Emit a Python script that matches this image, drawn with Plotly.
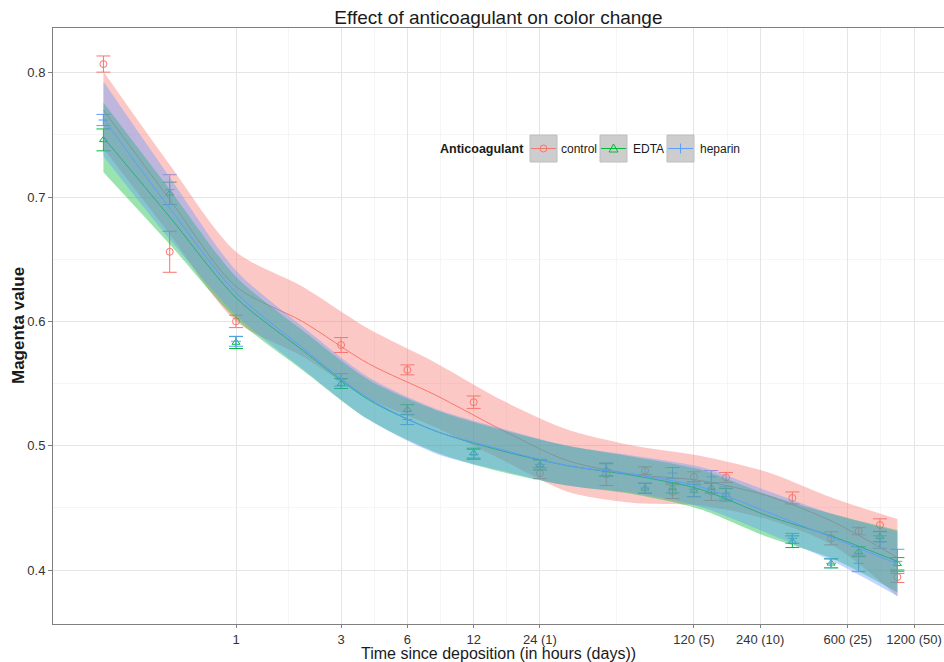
import plotly.graph_objects as go

# ---- measurements: mean magenta value and error half-width at each sampling time (hours)
hours = [0.25, 0.5, 1, 3, 6, 12, 24, 48, 72, 96, 120, 144, 168, 336, 504, 672, 840, 1008]

control_mean = [0.807, 0.656, 0.600, 0.581, 0.561, 0.535, 0.478, 0.477, 0.480, 0.463, 0.475, 0.463,
                0.4745, 0.458, 0.4255, 0.4314, 0.4362, 0.3944]
control_err = [0.0065, 0.0165, 0.005, 0.006, 0.004, 0.005, 0.0045, 0.009, 0.003, 0.0055, 0.004, 0.007,
               0.004, 0.0048, 0.0053, 0.003, 0.005, 0.0044]

edta_mean = [0.746, 0.703, 0.583, 0.550, 0.529, 0.494, 0.4845, 0.4805, 0.4657, 0.466, 0.464, 0.466,
             0.4605, 0.4228, 0.4054, 0.4148, 0.4268, 0.405]
edta_err = [0.0088, 0.009, 0.0048, 0.004, 0.004, 0.004, 0.004, 0.005, 0.004, 0.004, 0.005, 0.004,
            0.005, 0.0047, 0.0037, 0.004, 0.004, 0.005]

heparin_mean = [0.762, 0.706, 0.584, 0.553, 0.521, 0.493, 0.485, 0.481, 0.466, 0.478, 0.465, 0.475,
                0.462, 0.4255, 0.4054, 0.4054, 0.4225, 0.407]
heparin_err = [0.0045, 0.012, 0.004, 0.005, 0.004, 0.004, 0.004, 0.005, 0.004, 0.0045, 0.006, 0.005,
               0.005, 0.004, 0.0035, 0.0067, 0.005, 0.0097]

# ---- smoothed fits with confidence band, on a doubling grid of times
smooth_hours = [0.25, 0.5, 1, 2, 4, 8, 16, 32, 64, 128, 256, 512, 1008]

control_fit = [0.770, 0.698, 0.628, 0.600, 0.566, 0.541, 0.513, 0.488, 0.477, 0.472, 0.460, 0.439, 0.410]
control_hi = [0.801, 0.726, 0.656, 0.628, 0.594, 0.567, 0.537, 0.513, 0.500, 0.492, 0.479, 0.458, 0.441]
control_lo = [0.739, 0.670, 0.600, 0.572, 0.538, 0.515, 0.489, 0.463, 0.454, 0.452, 0.441, 0.420, 0.379]

edta_fit = [0.748, 0.684, 0.619, 0.577, 0.537, 0.512, 0.496, 0.484, 0.476, 0.465, 0.444, 0.427, 0.407]
edta_hi = [0.776, 0.706, 0.636, 0.593, 0.553, 0.529, 0.513, 0.500, 0.491, 0.481, 0.461, 0.445, 0.432]
edta_lo = [0.720, 0.662, 0.602, 0.561, 0.521, 0.495, 0.479, 0.468, 0.461, 0.449, 0.427, 0.409, 0.382]

heparin_fit = [0.763, 0.691, 0.623, 0.579, 0.538, 0.512, 0.497, 0.484, 0.477, 0.467, 0.447, 0.426, 0.405]
heparin_hi = [0.793, 0.716, 0.641, 0.596, 0.555, 0.530, 0.514, 0.500, 0.492, 0.483, 0.464, 0.445, 0.431]
heparin_lo = [0.733, 0.666, 0.605, 0.562, 0.521, 0.494, 0.480, 0.468, 0.462, 0.451, 0.430, 0.407, 0.379]

# ---- axis labelling
tick_hours = [1, 3, 6, 12, 24, 120, 240, 600, 1200]
tick_labels = ["1", "3", "6", "12", "24 (1)", "120 (5)", "240 (10)", "600 (25)", "1200 (50)"]
y_ticks = [0.4, 0.5, 0.6, 0.7, 0.8]

groups = ["control", "EDTA", "heparin"]
colors = ["#F8766D", "#00BA38", "#619CFF"]
fills = ["rgba(248,118,109,0.4)", "rgba(0,186,56,0.4)", "rgba(97,156,255,0.4)"]
symbols = ["circle-open", "triangle-up-open", "cross-thin-open"]
means = [control_mean, edta_mean, heparin_mean]
errs = [control_err, edta_err, heparin_err]
fits = [control_fit, edta_fit, heparin_fit]
his = [control_hi, edta_hi, heparin_hi]
los = [control_lo, edta_lo, heparin_lo]

FONT = "Liberation Sans, Arial, sans-serif"
W, H = 944, 662
ML, MR, MT, MB = 53, 0, 28, 38
PW, PH = W - ML - MR, H - MT - MB
SPLINE = dict(shape="spline", smoothing=0.8)

fig = go.Figure()

# points with error bars (underneath the smooths)
for g, c, s, m, e in zip(groups, colors, symbols, means, errs):
    fig.add_trace(go.Scatter(
        x=hours, y=m, mode="markers", name=g, showlegend=False,
        marker=dict(symbol=s, size=7, color=c, line=dict(color=c, width=1)),
        error_y=dict(type="data", array=e, visible=True, color=c, thickness=1, width=7),
    ))

# smooth: band then fitted line, one group after another
for g, c, f, fit, hi, lo in zip(groups, colors, fills, fits, his, los):
    fig.add_trace(go.Scatter(x=smooth_hours, y=lo, mode="lines", line=dict(width=0, **SPLINE),
                             showlegend=False, hoverinfo="skip"))
    fig.add_trace(go.Scatter(x=smooth_hours, y=hi, mode="lines", line=dict(width=0, **SPLINE),
                             fill="tonexty", fillcolor=f, showlegend=False, hoverinfo="skip"))
    fig.add_trace(go.Scatter(x=smooth_hours, y=fit, mode="lines", name=g, showlegend=False,
                             line=dict(color=c, width=1, **SPLINE)))


def px(x):
    return (x - ML) / PW


def py(y):
    return (MT + PH - y) / PH


# minor grid halfway (in log space) between labelled ticks
minor_hours = [(a * b) ** 0.5 for a, b in zip(tick_hours[:-1], tick_hours[1:])]

fig.update_xaxes(
    type="log", range=[-0.831, 3.215],
    tickvals=tick_hours, ticktext=tick_labels,
    showgrid=True, gridcolor="#E5E5E5", gridwidth=1,
    minor=dict(tickvals=minor_hours, showgrid=True, gridcolor="#F5F5F5", ticks=""),
    ticks="outside", ticklen=3, tickcolor="#7F7F7F", tickwidth=1,
    showline=True, linecolor="#7F7F7F", linewidth=1, mirror=True,
    tickfont=dict(family=FONT, size=13, color="#333333"),
    zeroline=False,
)
fig.update_yaxes(
    range=[0.3566, 0.836],
    tickvals=y_ticks, ticktext=[f"{v:.1f}" for v in y_ticks],
    showgrid=True, gridcolor="#E5E5E5", gridwidth=1,
    minor=dict(dtick=0.05, tick0=0.35, showgrid=True, gridcolor="#F5F5F5", ticks=""),
    ticks="outside", ticklen=4, tickcolor="#7F7F7F", tickwidth=1,
    showline=True, linecolor="#7F7F7F", linewidth=1,
    tickfont=dict(family=FONT, size=13, color="#333333"),
    zeroline=False,
)

annotations = [
    dict(text="Time since deposition (in hours (days))", xref="paper", yref="paper",
         x=0.5, y=py(653), xanchor="center", yanchor="middle", showarrow=False,
         font=dict(family=FONT, size=16, color="#1a1a1a")),
    dict(text="<b>Magenta value</b>", xref="paper", yref="paper", textangle=-90,
         x=px(18), y=0.5, xanchor="center", yanchor="middle", showarrow=False,
         font=dict(family=FONT, size=17, color="#1a1a1a")),
    dict(text="<b>Anticoagulant</b>", xref="paper", yref="paper",
         x=px(438), y=py(149), xanchor="left", yanchor="middle", showarrow=False,
         font=dict(family=FONT, size=12.5, color="#1a1a1a")),
]

# legend keys: grey box, coloured line and the group's marker
shapes = []
key_left = [530, 600, 667]
label_left = [559, 631, 698]
ky0, ky1 = 135, 162
kc = (ky0 + ky1) / 2
for g, c, x0, lx, s in zip(groups, colors, key_left, label_left, symbols):
    x1 = x0 + 27
    xc = (x0 + x1) / 2
    shapes.append(dict(type="rect", xref="paper", yref="paper", x0=px(x0), x1=px(x1),
                       y0=py(ky1), y1=py(ky0), fillcolor="#CDCDCD",
                       line=dict(color="#BEBEBE", width=1), layer="above"))
    shapes.append(dict(type="line", xref="paper", yref="paper", x0=px(x0 + 1), x1=px(x1 - 1),
                       y0=py(kc), y1=py(kc), line=dict(color=c, width=1), layer="above"))
    if s.startswith("circle"):
        shapes.append(dict(type="circle", xref="paper", yref="paper", x0=px(xc - 3.5), x1=px(xc + 3.5),
                           y0=py(kc + 3.5), y1=py(kc - 3.5), line=dict(color=c, width=1),
                           fillcolor="rgba(0,0,0,0)", layer="above"))
    elif s.startswith("triangle"):
        pts = [(xc, kc - 4.5), (xc - 4.5, kc + 3.5), (xc + 4.5, kc + 3.5)]
        path = "M " + " L ".join(f"{px(a)},{py(b)}" for a, b in pts) + " Z"
        shapes.append(dict(type="path", xref="paper", yref="paper", path=path,
                           line=dict(color=c, width=1), fillcolor="rgba(0,0,0,0)", layer="above"))
    else:
        shapes.append(dict(type="line", xref="paper", yref="paper", x0=px(xc), x1=px(xc),
                           y0=py(kc - 5), y1=py(kc + 5), line=dict(color=c, width=1), layer="above"))
    annotations.append(dict(text=g, xref="paper", yref="paper", x=px(lx), y=py(kc),
                            xanchor="left", yanchor="middle", showarrow=False,
                            font=dict(family=FONT, size=12, color="#1a1a1a")))

fig.update_layout(
    width=W, height=H,
    margin=dict(l=ML, r=MR, t=MT, b=MB, autoexpand=False),
    paper_bgcolor="white", plot_bgcolor="white",
    title=dict(text="Effect of anticoagulant on color change", x=0.528, xanchor="center",
               y=1 - 17 / H, yanchor="middle", yref="container",
               font=dict(family=FONT, size=19, color="#1a1a1a")),
    showlegend=False,
    annotations=annotations,
    shapes=shapes,
)

fig.write_html("out.html")
